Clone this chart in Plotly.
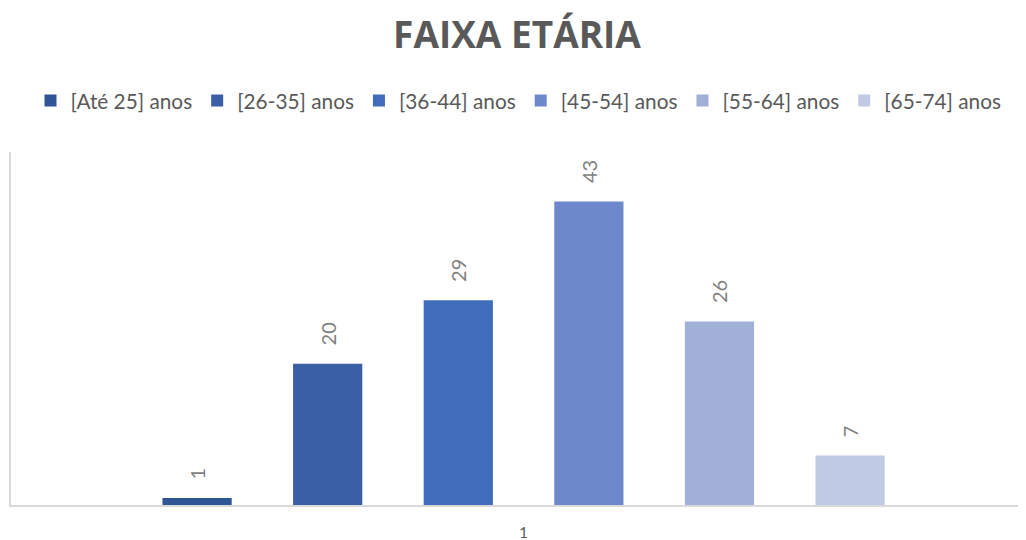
import plotly.graph_objects as go

categories = ["1"]
series_names = ["[Até 25] anos", "[26-35] anos", "[36-44] anos", "[45-54] anos", "[55-64] anos", "[65-74] anos"]
series_values = [1, 20, 29, 43, 26, 7]
colors = ["#2F5597", "#3A5FA6", "#3F6DBA", "#6E89CB", "#A1B0D9", "#C1CAE5"]

# the page body has an 8px margin, so the figure is drawn 8px in from the top-left
W, H = 1018, 532

fig = go.Figure()
for name, val, col in zip(series_names, series_values, colors):
    fig.add_trace(go.Bar(
        x=categories, y=[val], name=name,
        marker=dict(color=col, line=dict(width=0)),
        text=[str(val)], texttemplate="\u00a0\u00a0\u00a0%{text}",
        textposition="outside", textangle=-90,
        textfont=dict(family="Lato", size=20, color="#7F7F7F"),
        cliponaxis=False,
    ))

fig.update_layout(
    width=W, height=H,
    paper_bgcolor="white", plot_bgcolor="white",
    margin=dict(l=3, r=0, t=144, b=35, autoexpand=False),
    barmode="group", bargap=0.228, bargroupgap=0.47,
    title=dict(text="<b>FAIXA ETÁRIA</b>", x=0.5, xanchor="center",
               yref="container", y=1 - 27 / H, yanchor="middle", automargin=False,
               font=dict(family="Open Sans", size=37, color="#595959")),
    legend=dict(orientation="h", x=0.5, xanchor="center",
                yref="container", y=1 - 93 / H, yanchor="middle",
                font=dict(family="Lato", size=20.8, color="#595959"), itemwidth=30,
                traceorder="normal"),
    xaxis=dict(range=[-0.505, 0.495], showline=True, linecolor="#D9D9D9", linewidth=2,
               showgrid=False, ticks="", ticklabelstandoff=13,
               tickfont=dict(family="Lato", size=15, color="#595959")),
    yaxis=dict(range=[0, 50], showline=True, linecolor="#D9D9D9", linewidth=2,
               showgrid=False, showticklabels=False, ticks="", zeroline=False),
    showlegend=True,
)
fig.write_html("out.html")
